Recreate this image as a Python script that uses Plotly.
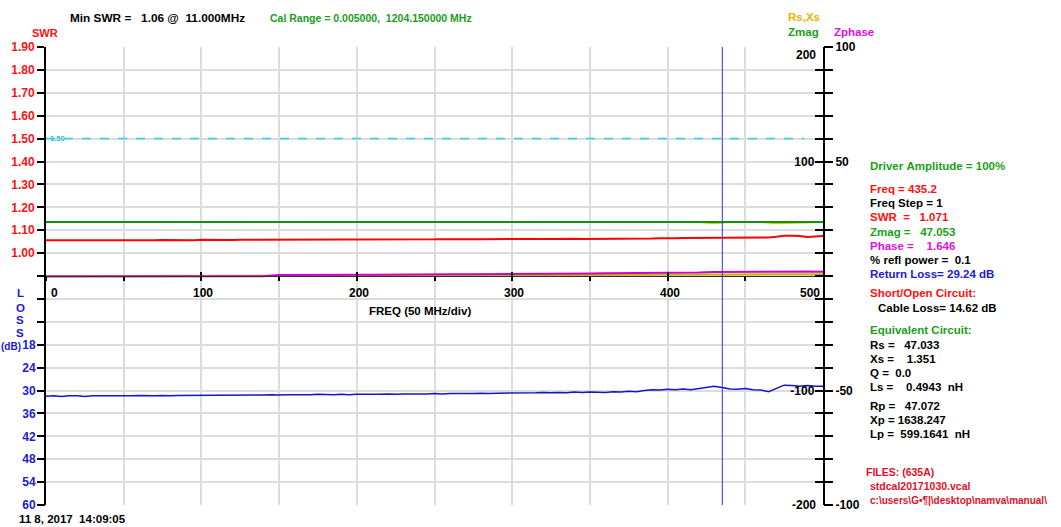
import plotly.graph_objects as go

# ---------------- data ----------------
FREQ = [i * 10 for i in range(51)]          # MHz, coarse traces
FREQ_FINE = [i * 5 for i in range(101)]     # MHz, fine traces

SWR_VALUES = [
    1.056, 1.056, 1.053, 1.055, 1.056, 1.056, 1.056, 1.056, 1.056, 1.056,
    1.056, 1.056, 1.056, 1.056, 1.056, 1.057, 1.056, 1.056, 1.056, 1.056,
    1.058, 1.057, 1.057, 1.057, 1.057, 1.058, 1.058, 1.058, 1.058, 1.059,
    1.058, 1.059, 1.058, 1.060, 1.059, 1.057, 1.059, 1.058, 1.057, 1.057,
    1.058, 1.059, 1.059, 1.059, 1.059, 1.060, 1.060, 1.058, 1.060, 1.060,
    1.060, 1.061, 1.060, 1.061, 1.061, 1.060, 1.061, 1.062, 1.061, 1.062,
    1.062, 1.062, 1.061, 1.062, 1.062, 1.062, 1.063, 1.062, 1.063, 1.062,
    1.062, 1.061, 1.062, 1.063, 1.063, 1.062, 1.063, 1.064, 1.064, 1.065,
    1.064, 1.065, 1.066, 1.066, 1.065, 1.067, 1.066, 1.068, 1.068, 1.067,
    1.067, 1.066, 1.067, 1.068, 1.071, 1.076, 1.076, 1.075, 1.070, 1.074,
    1.075,
]

RETURN_LOSS_DB = [
    31.5, 31.4, 31.6, 31.4, 31.4, 31.6, 31.4, 31.4, 31.5, 31.4,
    31.4, 31.4, 31.3, 31.4, 31.4, 31.3, 31.4, 31.3, 31.3, 31.3,
    31.3, 31.2, 31.3, 31.2, 31.3, 31.2, 31.2, 31.2, 31.2, 31.1,
    31.2, 31.1, 31.1, 31.2, 31.1, 31.0, 31.1, 31.1, 31.0, 31.1,
    31.0, 31.0, 31.1, 31.0, 30.9, 31.0, 30.9, 30.9, 31.0, 30.9,
    30.8, 30.9, 30.8, 30.8, 30.9, 30.8, 30.7, 30.8, 30.7, 30.7,
    30.6, 30.7, 30.6, 30.6, 30.5, 30.6, 30.5, 30.6, 30.4, 30.5,
    30.4, 30.4, 30.5, 30.3, 30.4, 30.2, 30.3, 30.0, 29.8, 29.9,
    29.7, 29.8, 29.6, 29.8, 29.5, 29.3, 28.9, 29.2, 29.6, 29.7,
    29.5, 29.8, 29.9, 30.3, 29.4, 28.6, 28.7, 28.9, 28.7, 28.9,
    28.9,
]

ZMAG = [
    47.1, 47.1, 47.0, 47.1, 47.1, 47.0, 47.1, 47.1, 47.0, 47.1,
    47.1, 47.0, 47.1, 47.1, 47.0, 47.1, 47.1, 47.0, 47.1, 47.1,
    47.0, 47.1, 47.1, 47.0, 47.1, 47.1, 47.0, 47.1, 47.1, 47.0,
    47.1, 47.1, 47.0, 47.1, 47.1, 47.0, 47.1, 47.1, 47.0, 47.1,
    47.1, 47.0, 47.1, 47.1, 47.0, 47.1, 47.1, 46.7, 47.0, 47.1,
    47.1,
]

RS = [
    47.0, 46.9, 47.0, 46.9, 47.0, 46.9, 47.0, 46.9, 47.0, 46.9,
    47.0, 46.9, 47.0, 46.9, 47.0, 46.9, 47.0, 46.9, 47.0, 46.9,
    47.0, 46.9, 47.0, 46.9, 47.0, 46.9, 47.0, 46.9, 47.0, 46.9,
    47.0, 46.9, 47.0, 46.9, 47.0, 46.9, 47.0, 46.9, 47.0, 46.9,
    47.0, 46.9, 47.0, 45.9, 46.9, 47.0, 46.9, 45.8, 46.3, 46.9,
    47.0,
]

XS = [
    0.0, 0.0, 0.0, 0.0, 0.05, 0.1, 0.1, 0.1, 0.1, 0.1,
    0.15, 0.15, 0.2, 0.2, 0.2, 0.3, 0.3, 0.35, 0.4, 0.4,
    0.4, 0.45, 0.5, 0.5, 0.5, 0.55, 0.6, 0.6, 0.65, 0.7,
    0.7, 0.75, 0.8, 0.8, 0.85, 0.9, 0.95, 1.0, 1.0, 1.05,
    1.1, 1.15, 1.2, 1.3, 1.4, 1.4, 1.45, 1.5, 1.6, 1.55,
    1.5,
]

PHASE = [
    -0.2, -0.2, -0.2, -0.2, -0.1, 0.1, -0.1, -0.1, -0.1, -0.1,
    -0.1, -0.1, -0.1, -0.1, -0.1, 0.4, 0.5, 0.5, 0.6, 0.6,
    0.6, 0.6, 0.7, 0.7, 0.7, 0.7, 0.8, 0.8, 0.8, 0.9,
    0.9, 0.9, 1.0, 1.0, 1.1, 1.1, 1.2, 1.2, 1.3, 1.4,
    1.4, 1.4, 1.5, 1.7, 1.8, 1.8, 1.8, 1.9, 2.1, 2.0,
    1.9,
]

CURSOR_FREQ = 435.2
SWR_LIMIT = 1.50
SWR_LIMIT_END = 488

SWR_LABELS = [1.00, 1.10, 1.20, 1.30, 1.40, 1.50, 1.60, 1.70, 1.80, 1.90]
LOSS_LABELS = [18, 24, 30, 36, 42, 48, 54, 60]
IMP_LABELS = [-200, -100, 100, 200]
PHASE_LABELS = [-100, -50, 50, 100]
FREQ_LABELS = [0, 100, 200, 300, 400, 500]

# ---------------- styling ----------------
FONT = "Liberation Sans, Arial, sans-serif"
GRID = "#dcdcdc"
RED = "#ff1010"
GREEN = "#18a018"
MAGENTA = "#e010e0"
BLUE = "#1a1ad8"
FILE_RED = "#e0102a"

W, H = 1061, 527
L, R, T, B = 46, 823, 47, 505


def b(s):
    return "<b>" + s.replace(" ", "\u00a0") + "</b>"


def ann(text, xpx, ypx, color="black", size=11.5, anchor="left"):
    return dict(text=b(text), x=(xpx - L) / (R - L), y=(B - ypx) / (B - T),
                xref="paper", yref="paper", xanchor=anchor, yanchor="middle",
                showarrow=False, font=dict(color=color, size=size, family=FONT))


fig = go.Figure()

# traces
fig.add_trace(go.Scatter(x=FREQ, y=RS, yaxis="y3", mode="lines",
                         line=dict(color="#d8c800", width=1.5), name="Rs"))
fig.add_trace(go.Scatter(x=FREQ, y=ZMAG, yaxis="y3", mode="lines",
                         line=dict(color="#109010", width=2), name="Zmag"))
fig.add_trace(go.Scatter(x=FREQ, y=XS, yaxis="y3", mode="lines",
                         line=dict(color="#c0b800", width=2), name="Xs"))
fig.add_trace(go.Scatter(x=FREQ, y=PHASE, yaxis="y4", mode="lines",
                         line=dict(color="#d000d0", width=2), name="Phase"))
fig.add_trace(go.Scatter(x=FREQ_FINE, y=SWR_VALUES, yaxis="y", mode="lines",
                         line=dict(color="#ff0000", width=2), name="SWR"))
fig.add_trace(go.Scatter(x=[0, SWR_LIMIT_END], y=[SWR_LIMIT, SWR_LIMIT], yaxis="y",
                         mode="lines", line=dict(color="#22d8e8", width=1.5, dash="dash"),
                         name="limit"))
fig.add_trace(go.Scatter(x=FREQ_FINE, y=RETURN_LOSS_DB, yaxis="y2", mode="lines",
                         line=dict(color="#1414c8", width=1.5), name="Return loss"))
fig.add_trace(go.Scatter(x=[CURSOR_FREQ, CURSOR_FREQ], y=[-0.1, 1.9], xaxis="x2", yaxis="y",
                         mode="lines", line=dict(color="#3030ff", width=1), name="cursor"))

swr_ticks = [round(-0.1 + 0.1 * i, 2) for i in range(21)]
swr_text = [b(f"{v:.2f}") if v in SWR_LABELS else "" for v in swr_ticks]
imp_ticks = [-200 + 20 * i for i in range(21)]
imp_text = [b(str(v)) if v in IMP_LABELS else "" for v in imp_ticks]
ph_ticks = [-100 + 10 * i for i in range(21)]
ph_text = [b(str(v)) if v in PHASE_LABELS else "" for v in ph_ticks]

annotations = [
    ann("Min SWR =   1.06 @  11.000MHz", 68, 18, size=11.8),
    ann("Cal Range = 0.005000,  1204.150000 MHz", 268, 18, GREEN, 10.5),
    ann("SWR", 30, 33, RED, 11),
    ann("Rs,Xs", 786, 17, "#e8b400"),
    ann("Zmag", 786, 32, GREEN),
    ann("Zphase", 832, 32, MAGENTA),
    ann("L", 20, 293, BLUE, anchor="center"),
    ann("O", 20, 308, BLUE, anchor="center"),
    ann("S", 20, 320, BLUE, anchor="center"),
    ann("S", 20, 333, BLUE, anchor="center"),
    ann("(dB)", 10.5, 346, BLUE, size=10, anchor="center"),
    ann("11 8, 2017  14:09:05", 17, 519),
    ann("FREQ (50 MHz/div)", 367, 311),
    # right panel
    ann("Driver Amplitude = 100%", 868, 166, GREEN),
    ann("Freq = 435.2", 868, 189, RED),
    ann("Freq Step = 1", 868, 203),
    ann("SWR  =   1.071", 868, 217, RED),
    ann("Zmag =   47.053", 868, 231.5, GREEN),
    ann("Phase =    1.646", 868, 245.5, MAGENTA),
    ann("% refl power =  0.1", 868, 260),
    ann("Return Loss= 29.24 dB", 868, 274, BLUE),
    ann("Short/Open Circuit:", 868, 293, RED),
    ann("Cable Loss= 14.62 dB", 876, 308),
    ann("Equivalent Circuit:", 868, 330, GREEN),
    ann("Rs =   47.033", 868, 344.5),
    ann("Xs =    1.351", 868, 358.5),
    ann("Q =  0.0", 868, 372.5),
    ann("Ls =    0.4943  nH", 868, 387),
    ann("Rp =   47.072", 868, 406),
    ann("Xp = 1638.247", 868, 420),
    ann("Lp =  599.1641  nH", 868, 434),
    ann("FILES: (635A)", 864, 471.5, FILE_RED, 10.5),
    ann("stdcal20171030.vcal", 868, 486, FILE_RED, 10.5),
    ann("c:\\users\\G\u2022\u00b6|\\desktop\\namva\\manual\\", 868, 500, FILE_RED, 10),
]

# impedance axis end labels (Plotly hides inside labels at the range ends)
for v, ys in ((IMP_LABELS[-1], -8), (IMP_LABELS[0], 0)):
    annotations.append(dict(text=b(str(v)), x=1, xref="paper", y=v, yref="y3",
                            xanchor="right", xshift=-5, yshift=ys, yanchor="middle",
                            showarrow=False, font=dict(size=12, color="black", family=FONT)))

# x tick labels
for v in FREQ_LABELS:
    if v == FREQ_LABELS[0]:
        xa, xs = "left", 3
    elif v == FREQ_LABELS[-1]:
        xa, xs = "right", -1
    else:
        xa, xs = "center", 2
    annotations.append(dict(text=b(str(v)), x=v, xref="x", y=(B - 293) / (B - T), yref="paper",
                            xanchor=xa, xshift=xs, yanchor="middle", showarrow=False,
                            font=dict(size=12, color="black", family=FONT)))

# 1.50 limit label
annotations.append(dict(text=b(f"{SWR_LIMIT:.2f}"), x=0, xref="x", y=SWR_LIMIT, yref="y",
                        xanchor="left", xshift=2, yanchor="middle", showarrow=False,
                        font=dict(size=7.5, color="#20c8d8", family=FONT)))

fig.update_layout(
    width=W, height=H, autosize=False,
    margin=dict(l=L, r=W - R, t=T, b=H - B, pad=0),
    paper_bgcolor="white", plot_bgcolor="white", showlegend=False,
    font=dict(family=FONT, size=12, color="black"),
    xaxis=dict(range=[0, 500], domain=[0, 1], anchor="free", position=0.5,
               showline=True, linecolor="#303030", linewidth=1,
               ticks="outside", ticklen=4, tickwidth=2, tickcolor="black",
               dtick=50, tick0=0, showticklabels=False,
               showgrid=True, gridcolor=GRID, gridwidth=1.5, zeroline=False),
    xaxis2=dict(range=[0, 500], overlaying="x", anchor="free", position=0.5,
                showline=False, ticks="inside", ticklen=4, tickwidth=2, tickcolor="black",
                dtick=100, tick0=0, showticklabels=False, showgrid=False, zeroline=False),
    yaxis=dict(range=[-0.1, 1.9], side="left", tickmode="array",
               tickvals=swr_ticks, ticktext=swr_text,
               ticks="outside", ticklen=7, tickwidth=2, tickcolor="black",
               showline=True, linewidth=2, linecolor="black",
               showgrid=True, gridcolor=GRID, gridwidth=1.5, zeroline=False,
               tickfont=dict(color=RED, size=12, family=FONT)),
    yaxis2=dict(range=[60, -60], overlaying="y", side="left", anchor="x",
                tickmode="array", tickvals=LOSS_LABELS,
                ticktext=[b(str(v)) for v in LOSS_LABELS],
                ticks="outside", ticklen=7, tickwidth=2, tickcolor="black",
                showline=False, showgrid=False, zeroline=False,
                tickfont=dict(color=BLUE, size=12, family=FONT)),
    yaxis3=dict(range=[-200, 200], overlaying="y", side="right", anchor="x",
                tickmode="array", tickvals=imp_ticks, ticktext=imp_text,
                ticks="inside", ticklen=8, tickwidth=2, tickcolor="black",
                ticklabelposition="inside",
                showline=True, linewidth=2, linecolor="black",
                showgrid=False, zeroline=False,
                tickfont=dict(color="black", size=12, family=FONT)),
    yaxis4=dict(range=[-100, 100], overlaying="y", side="right", anchor="x",
                tickmode="array", tickvals=ph_ticks, ticktext=ph_text,
                ticks="outside", ticklen=9, tickwidth=2, tickcolor="black",
                showline=False, showgrid=False, zeroline=False,
                tickfont=dict(color="black", size=12, family=FONT)),
    annotations=annotations,
)

fig.write_html("out.html", config={"displayModeBar": False})
